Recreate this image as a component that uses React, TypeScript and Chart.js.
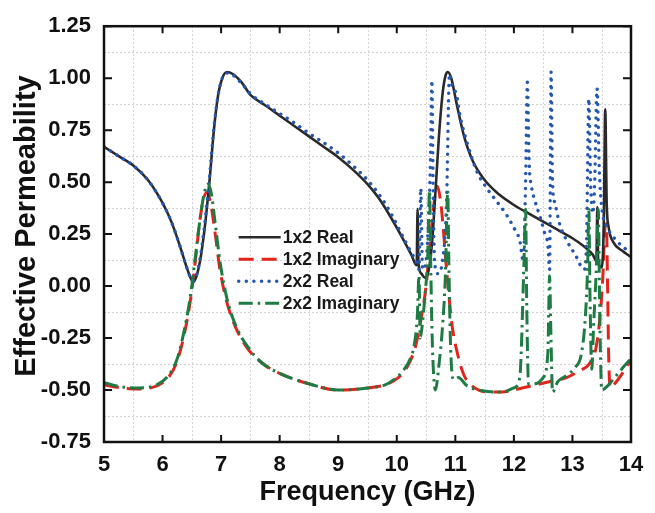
import React, { useEffect, useRef } from "react";
import { Chart, registerables } from "chart.js";

Chart.register(...registerables);

// ---------- data ----------
const real1x2Freq = [
  5.0, 5.25, 5.5, 5.75, 6.0, 6.15, 6.3, 6.4, 6.47, 6.52, 6.57, 6.64, 6.72, 6.8, 6.88, 6.95, 7.02, 7.1, 7.2, 7.35,
  7.5, 7.75, 8.0, 8.25, 8.5, 8.75, 9.0, 9.25, 9.5, 9.7, 9.9, 10.1, 10.25, 10.34, 10.355, 10.37, 10.42, 10.48,
  10.54, 10.6, 10.66, 10.72, 10.78, 10.83, 10.87, 10.93, 11.02, 11.15, 11.3, 11.5, 11.75, 12.0, 12.25, 12.5,
  12.75, 13.0, 13.2, 13.35, 13.41, 13.425, 13.44, 13.5, 13.535, 13.56, 13.585, 13.62, 13.7, 13.85, 14.0,
];
const real1x2Val = [
  0.67, 0.625, 0.58, 0.51, 0.4, 0.31, 0.19, 0.1, 0.045, 0.02, 0.04, 0.12, 0.28, 0.5, 0.76, 0.92, 1.0, 1.03, 1.02, 0.98,
  0.92, 0.87, 0.82, 0.77, 0.72, 0.67, 0.62, 0.56, 0.49, 0.42, 0.33, 0.23, 0.15, 0.1, 0.37, 0.11, 0.06, 0.04,
  0.07, 0.2, 0.45, 0.72, 0.92, 1.01, 1.03, 1.0, 0.88, 0.72, 0.6, 0.51, 0.44, 0.39, 0.35, 0.31,
  0.27, 0.23, 0.19, 0.15, 0.12, 0.38, 0.11, 0.09, 0.3, 0.85, 0.4, 0.28, 0.21, 0.17, 0.14,
];

const imag1x2Freq = [
  5.0, 5.3, 5.6, 5.9, 6.1, 6.25, 6.38, 6.48, 6.56, 6.63, 6.7, 6.76, 6.82, 6.9, 6.98, 7.1, 7.25, 7.45, 7.7, 8.0,
  8.5, 9.0, 9.5, 9.8, 9.95, 10.1, 10.23, 10.32, 10.42, 10.5, 10.6, 10.69, 10.76, 10.85, 10.94, 11.05, 11.15,
  11.25, 11.4, 11.6, 11.8, 12.0, 12.3, 12.6, 12.9, 13.1, 13.3, 13.4, 13.47, 13.52, 13.555, 13.58, 13.6, 13.62,
  13.645, 13.75, 13.9, 14.0,
];
const imag1x2Val = [
  -0.475, -0.49, -0.495, -0.48, -0.44, -0.36, -0.22, -0.06, 0.12, 0.3, 0.42, 0.45, 0.4, 0.25, 0.08, -0.08, -0.2, -0.3, -0.37, -0.42,
  -0.47, -0.5, -0.49, -0.475, -0.455, -0.42, -0.36, -0.29, -0.15, 0.0, 0.3, 0.48, 0.38, 0.08, -0.18, -0.34, -0.43,
  -0.47, -0.5, -0.51, -0.51, -0.5, -0.48, -0.46, -0.44, -0.41, -0.37, -0.3, -0.15, 0.05, 0.28, 0.3, 0.0, -0.35,
  -0.49, -0.46, -0.4, -0.355,
];

const real2x2Freq = [
  5.0, 5.25, 5.5, 5.75, 6.0, 6.15, 6.3, 6.4, 6.47, 6.52, 6.57, 6.64, 6.72, 6.8, 6.88, 6.95, 7.02, 7.1, 7.2, 7.35,
  7.5, 7.75, 8.0, 8.25, 8.5, 8.75, 9.0, 9.25, 9.5, 9.7, 9.9, 10.1, 10.25, 10.33, 10.38, 10.41, 10.44, 10.49,
  10.54, 10.575, 10.6, 10.62, 10.645, 10.7, 10.78, 10.85, 10.9, 10.95, 11.02, 11.08, 11.2, 11.37, 11.54, 11.7,
  11.88, 12.02, 12.1, 12.16, 12.2, 12.23, 12.26, 12.3, 12.36, 12.45, 12.53, 12.58, 12.61, 12.635, 12.66, 12.7,
  12.78, 12.9, 13.05, 13.2, 13.24, 13.28, 13.31, 13.35, 13.38, 13.42, 13.46, 13.5, 13.6, 13.75, 13.9, 14.0,
];
const real2x2Val = [
  0.67, 0.625, 0.58, 0.51, 0.4, 0.31, 0.19, 0.1, 0.045, 0.025, 0.045, 0.13, 0.3, 0.52, 0.77, 0.92, 1.0, 1.025, 1.015, 0.975,
  0.925, 0.875, 0.83, 0.785, 0.735, 0.69, 0.64, 0.58, 0.51, 0.44, 0.35, 0.24, 0.16, 0.12, 0.08, 0.47, 0.08, 0.1,
  0.3, 0.6, 0.99, 0.5, 0.12, 0.06, 0.12, 0.4, 1.02, 0.96, 0.92, 0.82, 0.69, 0.55, 0.47, 0.41,
  0.34, 0.27, 0.22, 0.12, 0.5, 0.98, 0.6, 0.48, 0.41, 0.33, 0.25, 0.2, 0.08, 1.03, 0.5, 0.4,
  0.3, 0.22, 0.15, 0.08, 0.2, 0.9, 0.5, 0.35, 0.5, 0.95, 0.55, 0.38, 0.28, 0.22, 0.18, 0.16,
];

const imag2x2Freq = [
  5.0, 5.3, 5.6, 5.9, 6.1, 6.25, 6.38, 6.48, 6.56, 6.63, 6.7, 6.77, 6.83, 6.9, 6.98, 7.1, 7.25, 7.45, 7.7, 8.0,
  8.5, 9.0, 9.5, 9.8, 9.95, 10.1, 10.23, 10.3, 10.35, 10.38, 10.4, 10.43, 10.48, 10.53, 10.56, 10.58, 10.61,
  10.66, 10.72, 10.78, 10.83, 10.87, 10.89, 10.92, 10.97, 11.05, 11.2, 11.4, 11.8, 12.0, 12.1, 12.17, 12.2,
  12.22, 12.25, 12.35, 12.5, 12.58, 12.61, 12.63, 12.66, 12.75, 12.9, 13.05, 13.15, 13.22, 13.26, 13.28, 13.3,
  13.33, 13.36, 13.41, 13.44, 13.47, 13.5, 13.6, 13.75, 13.9, 14.0,
];
const imag2x2Val = [
  -0.465, -0.485, -0.49, -0.475, -0.43, -0.35, -0.2, -0.04, 0.14, 0.3, 0.43, 0.49, 0.45, 0.3, 0.12, -0.06, -0.19, -0.29, -0.37, -0.42,
  -0.47, -0.5, -0.49, -0.475, -0.45, -0.41, -0.35, -0.28, -0.15, 0.05, -0.25, -0.2, -0.05, 0.15, 0.46, 0.1, -0.3,
  -0.5, -0.38, -0.2, 0.05, 0.46, 0.1, -0.3, -0.45, -0.44, -0.48, -0.5, -0.51, -0.49, -0.44, 0.09, 0.37,
  -0.1, -0.47, -0.47, -0.44, -0.32, 0.05, -0.2, -0.51, -0.46, -0.43, -0.39, -0.33, -0.15, 0.1, 0.37, -0.05,
  -0.4, -0.2, 0.1, 0.37, -0.2, -0.5, -0.48, -0.43, -0.38, -0.35,
];

const xTickValues = [5, 6, 7, 8, 9, 10, 11, 12, 13, 14];
const yTickValues = [-0.75, -0.5, -0.25, 0, 0.25, 0.5, 0.75, 1.0, 1.25];
const xGridValues = [5.5, 6.5, 7.5, 8.5, 9.5, 10.5, 11.5, 12.5, 13.5];
const yGridValues = [-0.625, -0.375, -0.125, 0.125, 0.375, 0.625, 0.875, 1.125];

const seriesLabels = ["1x2 Real", "1x2 Imaginary", "2x2 Real", "2x2 Imaginary"];
const seriesColors = ["#2a2a2a", "#e3241d", "#2457b0", "#1e7b44"];

const FONT = "'Liberation Sans', Arial, Helvetica, sans-serif";

function toPoints(xs: number[], ys: number[]) {
  return xs.map((x, i) => ({ x, y: ys[i] }));
}

const styles = [
  { width: 2.6, dash: [] as number[], cap: "butt" },
  { width: 3, dash: [15, 8], cap: "butt" },
  { width: 3.4, dash: [0.1, 7.5], cap: "round" },
  { width: 3, dash: [14, 5, 2.5, 5], cap: "butt" },
];

const decorPlugin = {
  id: "decor",
  beforeDatasetsDraw(chart: any) {
    const { ctx, chartArea, scales } = chart;
    const { left, right, top, bottom } = chartArea;
    ctx.save();
    ctx.strokeStyle = "#d2d2d2";
    ctx.lineWidth = 1;
    ctx.setLineDash([2, 2]);
    ctx.beginPath();
    xGridValues.forEach((v) => {
      const px = Math.round(scales.x.getPixelForValue(v)) + 0.5;
      ctx.moveTo(px, top);
      ctx.lineTo(px, bottom);
    });
    yGridValues.forEach((v) => {
      const py = Math.round(scales.y.getPixelForValue(v)) + 0.5;
      ctx.moveTo(left, py);
      ctx.lineTo(right, py);
    });
    ctx.stroke();
    ctx.restore();
  },
  afterDatasetsDraw(chart: any) {
    const { ctx, chartArea, scales } = chart;
    const { left, right, top, bottom } = chartArea;
    ctx.save();
    ctx.setLineDash([]);
    ctx.strokeStyle = "#111";
    ctx.lineWidth = 2;
    const tl = 7;
    ctx.beginPath();
    xTickValues.forEach((v) => {
      const px = scales.x.getPixelForValue(v);
      ctx.moveTo(px, bottom);
      ctx.lineTo(px, bottom - tl);
      ctx.moveTo(px, top);
      ctx.lineTo(px, top + tl);
    });
    yTickValues.forEach((v) => {
      const py = scales.y.getPixelForValue(v);
      ctx.moveTo(left, py);
      ctx.lineTo(left + tl + 1, py);
      ctx.moveTo(right, py);
      ctx.lineTo(right - tl - 1, py);
    });
    ctx.stroke();
    ctx.lineWidth = 2.5;
    ctx.strokeRect(left, top, right - left, bottom - top);

    // legend inside plot
    const lx = scales.x.getPixelForValue(7.3);
    const ly0 = scales.y.getPixelForValue(0.235);
    const rowH = 22;
    ctx.font = `bold 17.5px ${FONT}`;
    ctx.textBaseline = "middle";
    ctx.textAlign = "left";
    seriesLabels.forEach((label, i) => {
      const y = ly0 + i * rowH;
      const st = styles[i];
      ctx.beginPath();
      ctx.strokeStyle = seriesColors[i];
      ctx.lineWidth = st.width;
      ctx.lineCap = st.cap as CanvasLineCap;
      ctx.setLineDash(st.dash);
      ctx.moveTo(lx, y);
      ctx.lineTo(lx + 42, y);
      ctx.stroke();
      ctx.setLineDash([]);
      ctx.lineCap = "butt";
      ctx.fillStyle = "#1a1a1a";
      ctx.fillText(label, lx + 44, y + 1);
    });
    ctx.restore();
  },
};

export default function App() {
  const canvasRef = useRef<HTMLCanvasElement | null>(null);

  useEffect(() => {
    const canvas = canvasRef.current;
    if (!canvas) return;
    const seriesData = [
      toPoints(real1x2Freq, real1x2Val),
      toPoints(imag1x2Freq, imag1x2Val),
      toPoints(real2x2Freq, real2x2Val),
      toPoints(imag2x2Freq, imag2x2Val),
    ];
    const drawOrder = [3, 4, 2, 1];
    const chart = new Chart(canvas, {
      type: "line",
      data: {
        datasets: seriesData.map((d, i) => ({
          label: seriesLabels[i],
          data: d,
          borderColor: seriesColors[i],
          backgroundColor: seriesColors[i],
          borderWidth: styles[i].width,
          borderDash: styles[i].dash,
          borderCapStyle: styles[i].cap as CanvasLineCap,
          borderJoinStyle: "round" as CanvasLineJoin,
          pointRadius: 0,
          cubicInterpolationMode: "monotone" as const,
          fill: false,
          order: drawOrder[i],
        })),
      },
      options: {
        animation: false,
        responsive: false,
        devicePixelRatio: 1,
        layout: { padding: { left: 0, right: 24, top: 18, bottom: 0 } },
        plugins: { legend: { display: false }, tooltip: { enabled: false } },
        scales: {
          x: {
            type: "linear",
            min: 5,
            max: 14,
            grid: { display: false, drawTicks: false },
            border: { display: false },
            ticks: {
              stepSize: 1,
              autoSkip: false,
              maxRotation: 0,
              padding: 10,
              color: "#111",
              font: { family: FONT, size: 22, weight: "bold" },
            },
            title: {
              display: true,
              text: "Frequency (GHz)",
              color: "#111",
              font: { family: FONT, size: 27, weight: "bold" },
              padding: { top: 0, bottom: 4 },
            },
            afterFit(scale: any) {
              scale.height = 71;
            },
          },
          y: {
            type: "linear",
            min: -0.75,
            max: 1.25,
            grid: { display: false, drawTicks: false },
            border: { display: false },
            ticks: {
              stepSize: 0.25,
              autoSkip: false,
              padding: 13,
              color: "#111",
              font: { family: FONT, size: 22, weight: "bold" },
              callback: (v: any) => Number(v).toFixed(2),
            },
            title: {
              display: true,
              text: "  Effective Permeability",
              color: "#111",
              font: { family: FONT, size: 29, weight: "bold" },
              padding: { top: 10, bottom: 0 },
            },
            afterFit(scale: any) {
              scale.width = 104;
            },
          },
        },
      },
      plugins: [decorPlugin],
    });
    return () => chart.destroy();
  }, []);

  return (
    <div style={{ position: "fixed", left: 0, top: 0, width: 655, height: 513, background: "#fff" }}>
      <canvas ref={canvasRef} width={655} height={513} style={{ width: 655, height: 513, display: "block" }} />
    </div>
  );
}
